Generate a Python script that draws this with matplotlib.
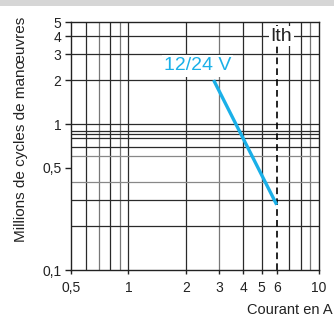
import matplotlib
matplotlib.use("Agg")
import matplotlib.pyplot as plt
from matplotlib.patches import Rectangle

plt.rcParams['font.family'] = ['Liberation Sans', 'DejaVu Sans']

# Data
curve_x = [2.8, 6.0]
curve_y = [2.0, 0.28]
curve_label = "12/24 V"
ith_x = 6.0
ith_label = "Ith"

x_ticks = [0.5, 1, 2, 3, 4, 5, 6, 10]
x_ticklabels = ["0,5", "1", "2", "3", "4", "5", "6", "10"]
y_ticks = [0.1, 0.5, 1, 2, 3, 4, 5]
y_ticklabels = ["0,1", "0,5", "1", "2", "3", "4", "5"]

x_grid = [0.6, 0.7, 0.8, 0.9, 1, 2, 3, 4, 5, 7, 8, 9]
x_grid_gray = [0.7, 0.9, 3, 9]
y_grid = [0.2, 0.3, 0.4, 0.6, 0.7, 0.8, 0.85, 0.9, 1, 2, 3, 4]
y_grid_gray = [0.4, 0.6]

xlabel = "Courant en A"
ylabel = "Millions de cycles de manœuvres"

fig = plt.figure(figsize=(3.34, 3.18), dpi=100)
fig.patches.append(Rectangle((0, 1 - 6 / 318), 1, 6 / 318, transform=fig.transFigure,
                             facecolor="#d6d6d6", edgecolor="none", zorder=0))
ax = fig.add_axes([71 / 334, 1 - 270 / 318, 248 / 334, 248 / 318])
ax.set_xscale("log")
ax.set_yscale("log")
ax.set_xlim(0.5, 10)
ax.set_ylim(0.1, 5)

for gx in x_grid:
    ax.axvline(gx, color="#777777" if gx in x_grid_gray else "#2a2a2a", lw=0.9, zorder=1)
for gy in y_grid:
    ax.axhline(gy, color="#888888" if gy in y_grid_gray else "#2a2a2a", lw=0.9, zorder=1)

ax.axvline(ith_x, color="black", lw=1.2, ls=(0, (4, 2.5)), zorder=2)

ax.plot(curve_x, curve_y, color="#1ab0e8", lw=2.4, solid_capstyle="butt", zorder=3)
ax.text(2.3, 2.5, curve_label, color="#1ab0e8", fontsize=14, ha="center", va="center", zorder=4,
        bbox=dict(facecolor="white", edgecolor="none", pad=1.5))
ax.text(6.35, 4.0, ith_label, color="#222222", fontsize=14, ha="center", va="center",
        bbox=dict(facecolor="white", edgecolor="none", pad=1.0), zorder=4)

ax.set_xticks(x_ticks)
ax.set_xticklabels(x_ticklabels)
ax.set_yticks(y_ticks)
ax.set_yticklabels(y_ticklabels)
ax.minorticks_off()
ax.tick_params(axis="x", length=3, width=1, pad=5, labelsize=10, colors="#222222")
ax.tick_params(axis="y", length=4, width=1, pad=3, labelsize=10, colors="#222222")
for s in ax.spines.values():
    s.set_color("#222222")
    s.set_linewidth(1.0)

fig.text(0.995, 1 - 310 / 318, xlabel, ha="right", va="center", fontsize=10.5, color="#222222")
fig.text(21 / 334, 1 - 129 / 318, ylabel, ha="center", va="center", rotation=90,
         fontsize=11, color="#222222")

fig.savefig("out.png", dpi=100)
